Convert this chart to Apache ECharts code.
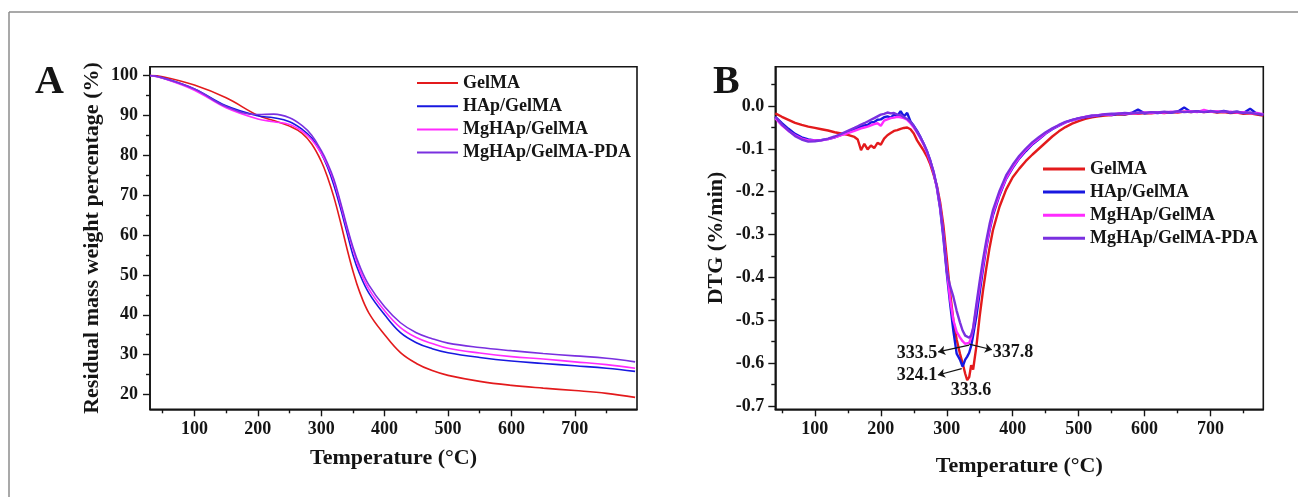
<!DOCTYPE html>
<html>
<head>
<meta charset="utf-8">
<script src="https://cdn.jsdelivr.net/npm/echarts@6/dist/echarts.min.js"></script>
<style>
html, body { margin: 0; padding: 0; background: #fff; }
#chart { width: 1298px; height: 497px; }
</style>
</head>
<body>
<div id="chart"></div>
<script>
// sample names, same order in both panels
const names = ['GelMA', 'HAp/GelMA', 'MgHAp/GelMA', 'MgHAp/GelMA-PDA']
const colors = ['#e31a1c', '#1818e0', '#ff2bff', '#7a30e0']

// panel A: TGA residual mass (%)
const tA = [30, 50, 100, 150, 200, 225, 250, 270, 285, 300, 310, 320, 330, 340, 350, 360, 375, 400, 425, 450, 475, 500, 550, 600, 650, 700, 750, 795]
const tgaGel = [100, 99.7, 97.6, 94.4, 90.0, 88.7, 87.3, 85.5, 82.8, 78.5, 74.5, 69.5, 63.5, 57, 51, 46, 40.5, 35, 30.5, 27.8, 26.0, 24.8, 23.3, 22.3, 21.6, 21.0, 20.3, 19.3]
const tgaHAp = [100, 99.4, 96.6, 92.4, 89.9, 89.4, 88.4, 86.5, 84.3, 80.5, 77, 72.5, 67, 61, 55, 50.5, 45.5, 40, 35.5, 33, 31.5, 30.5, 29.3, 28.4, 27.8, 27.2, 26.6, 25.8]
const tgaMg = [100, 99.3, 96.3, 91.9, 89.1, 88.4, 87.7, 86.0, 83.9, 80.5, 77.5, 73.5, 68, 62, 56.5, 51.5, 46.5, 41, 36.8, 34.3, 32.8, 31.6, 30.4, 29.5, 28.9, 28.2, 27.5, 26.6]
const tgaPda = [100, 99.4, 96.6, 92.2, 90.2, 90.3, 89.4, 87.4, 85, 81.2, 78, 74, 68.5, 62.5, 57, 52.5, 47.5, 42, 38, 35.5, 34, 32.9, 31.8, 31.0, 30.3, 29.7, 29.1, 28.2]

// panel B: DTG (%/min)
const tB = [40, 50, 60, 70, 80, 90, 100, 110, 120, 130, 140, 150, 160,
    165, 170, 175, 180, 185, 190, 195, 200, 205, 210, 215, 220, 225, 230, 235, 240, 245, 250, 255, 260, 265, 270, 275, 280, 285, 290, 295, 300, 305, 310, 315, 320,
    324, 328, 331, 334, 337,
    340, 345, 350, 355, 360, 365, 370,
    380, 390, 400, 410, 420, 430, 440, 450, 460, 470, 480, 490, 500, 510, 520, 530, 540, 550, 560, 570, 580, 590, 600, 610, 620, 630, 640, 650, 660, 670, 680, 690, 700, 710, 720, 730, 740, 750, 760, 770, 780]
const dtgGel = [-0.017, -0.025, -0.032, -0.039, -0.044, -0.048, -0.051, -0.054, -0.057, -0.061, -0.064, -0.067, -0.072,
    -0.078, -0.103, -0.088, -0.101, -0.092, -0.098, -0.086, -0.090, -0.076, -0.068, -0.063, -0.058, -0.056, -0.053, -0.051, -0.050, -0.054, -0.064, -0.080, -0.092, -0.104, -0.118, -0.136, -0.160, -0.186, -0.225, -0.280, -0.355, -0.435, -0.500, -0.545, -0.578,
    -0.600, -0.625, -0.640, -0.633, -0.605,
    -0.615, -0.560, -0.490, -0.430, -0.378, -0.330, -0.290,
    -0.235, -0.195, -0.166, -0.146, -0.128, -0.113, -0.099, -0.085, -0.071, -0.059, -0.049, -0.041, -0.035, -0.030, -0.026, -0.024, -0.022, -0.021, -0.019, -0.020, -0.017, -0.018, -0.016, -0.017, -0.015, -0.016, -0.014, -0.015, -0.013, -0.014, -0.012, -0.014, -0.013, -0.015, -0.014, -0.016, -0.015, -0.018, -0.017, -0.020, -0.022]
const dtgHAp = [-0.025, -0.040, -0.053, -0.065, -0.073, -0.078, -0.080, -0.079, -0.077, -0.073, -0.067, -0.061, -0.055,
    -0.051, -0.048, -0.045, -0.044, -0.038, -0.037, -0.032, -0.031, -0.026, -0.024, -0.027, -0.020, -0.023, -0.012, -0.024, -0.016, -0.036, -0.046, -0.058, -0.072, -0.088, -0.106, -0.128, -0.155, -0.190, -0.240, -0.310, -0.390, -0.460, -0.525, -0.578, -0.592,
    -0.608, -0.592, -0.585, -0.576, -0.560,
    -0.535, -0.490, -0.435, -0.380, -0.330, -0.290, -0.255,
    -0.208, -0.170, -0.144, -0.122, -0.105, -0.089, -0.077, -0.064, -0.054, -0.046, -0.038, -0.033, -0.029, -0.026, -0.024, -0.022, -0.020, -0.021, -0.018, -0.019, -0.016, -0.008, -0.017, -0.015, -0.016, -0.014, -0.015, -0.013, -0.003, -0.014, -0.012, -0.013, -0.012, -0.014, -0.011, -0.015, -0.013, -0.016, -0.006, -0.018, -0.020]
const dtgMg = [-0.028, -0.045, -0.058, -0.068, -0.076, -0.080, -0.080, -0.080, -0.077, -0.073, -0.068, -0.063, -0.058,
    -0.055, -0.052, -0.050, -0.048, -0.045, -0.042, -0.040, -0.046, -0.034, -0.031, -0.028, -0.027, -0.025, -0.026, -0.028, -0.032, -0.040, -0.050, -0.062, -0.075, -0.090, -0.108, -0.130, -0.155, -0.190, -0.235, -0.300, -0.380, -0.450, -0.500, -0.527, -0.540,
    -0.549, -0.555, -0.557, -0.553, -0.540,
    -0.520, -0.470, -0.420, -0.370, -0.325, -0.285, -0.250,
    -0.205, -0.168, -0.142, -0.120, -0.102, -0.087, -0.075, -0.063, -0.053, -0.045, -0.038, -0.033, -0.029, -0.025, -0.023, -0.021, -0.019, -0.020, -0.017, -0.018, -0.016, -0.017, -0.015, -0.016, -0.014, -0.015, -0.013, -0.014, -0.013, -0.012, -0.014, -0.009, -0.013, -0.012, -0.014, -0.013, -0.015, -0.014, -0.017, -0.016, -0.019]
const dtgPda = [-0.025, -0.043, -0.057, -0.070, -0.078, -0.083, -0.082, -0.080, -0.076, -0.071, -0.065, -0.058, -0.051,
    -0.047, -0.043, -0.040, -0.036, -0.032, -0.028, -0.024, -0.020, -0.018, -0.015, -0.017, -0.016, -0.020, -0.021, -0.026, -0.030, -0.037, -0.047, -0.060, -0.073, -0.088, -0.105, -0.127, -0.153, -0.188, -0.235, -0.300, -0.385, -0.420, -0.445, -0.478, -0.505,
    -0.524, -0.536, -0.540, -0.541, -0.535,
    -0.518, -0.462, -0.408, -0.358, -0.314, -0.275, -0.243,
    -0.198, -0.162, -0.137, -0.116, -0.099, -0.084, -0.072, -0.061, -0.052, -0.044, -0.037, -0.032, -0.028, -0.025, -0.022, -0.021, -0.019, -0.018, -0.018, -0.016, -0.017, -0.015, -0.016, -0.014, -0.015, -0.013, -0.015, -0.012, -0.014, -0.013, -0.012, -0.014, -0.011, -0.014, -0.012, -0.015, -0.013, -0.016, -0.015, -0.018, -0.020]

// tick labels
const xMajor = [100, 200, 300, 400, 500, 600, 700]
const xMinor = [50, 150, 250, 350, 450, 550, 650, 750]
const yMajorA = [20, 30, 40, 50, 60, 70, 80, 90, 100]
const yMinorA = [25, 35, 45, 55, 65, 75, 85, 95]
const yMajorB = [-0.7, -0.6, -0.5, -0.4, -0.3, -0.2, -0.1, 0]
const yMinorB = [-0.65, -0.55, -0.45, -0.35, -0.25, -0.15, -0.05, 0.05]

// peak annotations in panel B
const peakText = ['333.5', '324.1', '333.6', '337.8']
const peakAt = [[254.7, -0.577], [254.7, -0.628], [336.6, -0.663], [400.3, -0.575]]
const arrows = [
    [[334, -0.558], [286.9, -0.574]],
    [[334, -0.556], [368.5, -0.569]],
    [[322.7, -0.613], [286.6, -0.628]]
]

const font = 'Liberation Serif'
const ink = '#151515'
const lbl = { fontFamily: font, fontWeight: 'bold', fontSize: 18, color: ink }
const title = { fontFamily: font, fontWeight: 'bold', fontSize: 22, color: ink }

function axis(dir, grid, min, max, major, minor, opt) {
    let list = [{
        type: 'value', gridIndex: grid, min: min, max: max,
        position: dir == 'x' ? 'bottom' : 'left',
        name: opt.name, nameLocation: 'middle', nameGap: opt.gap, nameTextStyle: title,
        axisLine: { show: true, onZero: false, lineStyle: { color: ink, width: 1.6 } },
        axisTick: { show: true, length: 7, customValues: major, lineStyle: { color: ink, width: 1.4 } },
        axisLabel: Object.assign({ margin: opt.margin, customValues: major, formatter: opt.fmt }, lbl),
        splitLine: { show: false }
    }, {
        type: 'value', gridIndex: grid, min: min, max: max,
        position: dir == 'x' ? 'bottom' : 'left',
        axisLine: { show: false, onZero: false },
        axisTick: { show: true, length: 4, customValues: minor, lineStyle: { color: ink, width: 1.4 } },
        axisLabel: { show: false },
        splitLine: { show: false }
    }]
    return list
}

function pairs(t, v) {
    return t.map((x, i) => [x, v[i]])
}

let chart = echarts.init(document.getElementById('chart'))

let tgaSets = [tgaGel, tgaHAp, tgaMg, tgaPda]
let dtgSets = [dtgGel, dtgHAp, dtgMg, dtgPda]
let series = []
tgaSets.forEach((v, i) => {
    series.push({
        name: names[i], type: 'line', xAxisIndex: 0, yAxisIndex: 0,
        data: pairs(tA, v), smooth: 0.4, showSymbol: false,
        lineStyle: { width: 1.6, color: colors[i] }, itemStyle: { color: colors[i] }
    })
})
dtgSets.forEach((v, i) => {
    series.push({
        name: names[i], type: 'line', xAxisIndex: 2, yAxisIndex: 2,
        data: pairs(tB, v), showSymbol: false,
        lineStyle: { width: 2.4, color: colors[i] }, itemStyle: { color: colors[i] }
    })
})
// arrows + peak values hang on the last DTG series so they sit on top
let last = series[series.length - 1]
last.markPoint = {
    silent: true, symbolSize: 0,
    label: Object.assign({ show: true, position: 'inside', formatter: p => p.name }, lbl),
    data: peakText.map((t, i) => ({ name: t, coord: peakAt[i] }))
}
last.markLine = {
    silent: true, symbol: ['none', 'arrow'], symbolSize: 7,
    lineStyle: { color: ink, width: 1.2, type: 'solid' },
    label: { show: false },
    data: arrows.map(a => [{ coord: a[0] }, { coord: a[1] }])
}

let legendBase = {
    data: names, orient: 'vertical', icon: 'rect', padding: 0,
    textStyle: { fontFamily: font, fontWeight: 'bold', fontSize: 18, color: ink }
}

chart.setOption({
    animation: false,
    backgroundColor: '#fff',
    grid: [
        { left: 150, top: 66.7, width: 487, height: 342.6, show: true, borderColor: ink, borderWidth: 1.6 },
        { left: 775.3, top: 66.7, width: 488, height: 342.6, show: true, borderColor: ink, borderWidth: 1.6 }
    ],
    xAxis: [].concat(
        axis('x', 0, 30, 798, xMajor, xMinor, { name: 'Temperature (°C)', gap: 38, margin: 11 }),
        axis('x', 1, 40, 780, xMajor, xMinor, { name: 'Temperature (°C)', gap: 46, margin: 11 })
    ),
    yAxis: [].concat(
        axis('y', 0, 16.3, 102.2, yMajorA, yMinorA, { name: 'Residual mass weight percentage (%)', gap: 47, margin: 12 }),
        axis('y', 1, -0.708, 0.092, yMajorB, yMinorB, { name: 'DTG (%/min)', gap: 48, margin: 11, fmt: v => v.toFixed(1) })
    ),
    legend: [
        Object.assign({ left: 417, top: 74, itemWidth: 41, itemHeight: 2, itemGap: 5.2 }, legendBase),
        Object.assign({ left: 1043, top: 160, itemWidth: 42, itemHeight: 3, itemGap: 5.1 }, legendBase)
    ],
    graphic: [
        { type: 'line', silent: true, shape: { x1: 9, y1: 12, x2: 1298, y2: 12 }, style: { stroke: '#8c8c8c', lineWidth: 1.5 } },
        { type: 'line', silent: true, shape: { x1: 9, y1: 12, x2: 9, y2: 497 }, style: { stroke: '#8c8c8c', lineWidth: 1.5 } },
        { type: 'text', left: 35, top: 63, style: { text: 'A', font: 'bold 40px "Liberation Serif"', fill: ink } },
        { type: 'text', left: 713, top: 63, style: { text: 'B', font: 'bold 40px "Liberation Serif"', fill: ink } }
    ],
    series: series
})
</script>
</body>
</html>
